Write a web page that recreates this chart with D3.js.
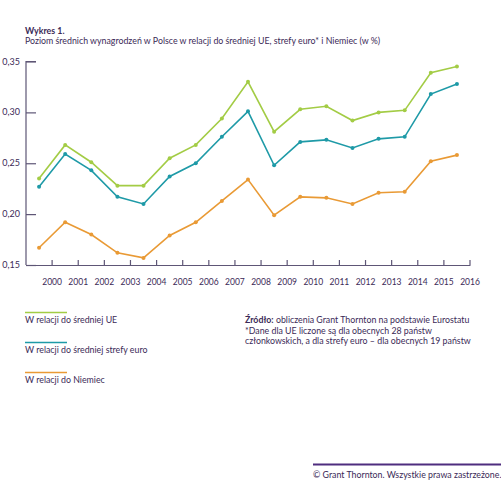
<!DOCTYPE html>
<html><head><meta charset="utf-8">
<script src="https://cdn.jsdelivr.net/npm/d3@7"></script>
<style>
html,body{margin:0;padding:0;background:#fff;}
text{font-family:Lato,"Open Sans",sans-serif;}
</style></head>
<body><svg id="c" width="501" height="491"></svg>
<script>
const years = ["2000","2001","2002","2003","2004","2005","2006","2007","2008","2009","2010","2011","2012","2013","2014","2015","2016"];
const seriesUE = [0.235,0.268,0.251,0.228,0.228,0.255,0.268,0.294,0.330,0.281,0.303,0.306,0.292,0.300,0.302,0.339,0.345];
const seriesEuro = [0.227,0.259,0.243,0.217,0.210,0.237,0.250,0.276,0.301,0.248,0.271,0.273,0.265,0.274,0.276,0.318,0.328];
const seriesDE = [0.167,0.192,0.180,0.162,0.157,0.179,0.192,0.213,0.234,0.199,0.217,0.216,0.210,0.221,0.222,0.252,0.258];
const yTicks = [0.15,0.20,0.25,0.30,0.35];
const seriesNames = ["W relacji do średniej UE","W relacji do średniej strefy euro","W relacji do Niemiec"];
const colors = ["#a3cc45","#1e9aa7","#e99a35"];

const svg = d3.select("#c");
const txt = "#3b2a57", axisCol = "#5e5676";
const fs = 8.8;

// title
svg.append("text").attr("x",25).attr("y",34).attr("font-size",fs).attr("font-weight","bold").attr("fill",txt).text("Wykres 1.");
svg.append("text").attr("x",25).attr("y",43.5).attr("font-size",fs).attr("fill",txt)
  .text("Poziom średnich wynagrodzeń w Polsce w relacji do średniej UE, strefy euro* i Niemiec (w %)");

const x = d3.scaleBand().domain(years).range([26,470]).padding(0);
const y = d3.scaleLinear().domain([0.15,0.35]).range([265,61.5]);

const g = svg.append("g");
// y axis
const yAx = d3.axisRight(y).tickValues(yTicks).tickSize(10).tickFormat("");
const ya = g.append("g").attr("transform","translate(26,0)").call(yAx);
ya.selectAll("path,line").attr("stroke",axisCol).attr("stroke-width",1.2);
ya.select(".domain").attr("d",`M10,${y(0.35)}H0V${y(0.15)}H0`);
g.selectAll(".ylab").data(yTicks).enter().append("text")
  .attr("x",20).attr("y",d=>y(d)+3).attr("text-anchor","end").attr("font-size",9).attr("fill",txt)
  .text(d=>d3.format(".2f")(d).replace(".",","));
// x axis
const xa = g.append("g").attr("transform","translate(0,265)")
  .call(d3.axisTop(x).tickSize(5).tickSizeOuter(0).tickFormat(""));
xa.selectAll(".tick").attr("transform",d=>`translate(${x(d)+x.bandwidth()},0)`);
xa.selectAll("path,line").attr("stroke",axisCol).attr("stroke-width",1.2);
g.selectAll(".xlab").data(years).enter().append("text")
  .attr("x",d=>x(d)+x.bandwidth()).attr("y",285).attr("text-anchor","middle").attr("font-size",8.5).attr("fill",txt)
  .text(d=>d);

const all = [seriesUE, seriesEuro, seriesDE];
const line = d3.line().x((d,i)=>x(years[i])+x.bandwidth()/2).y(d=>y(d));
all.forEach((s,k)=>{
  g.append("path").datum(s).attr("d",line).attr("fill","none").attr("stroke",colors[k]).attr("stroke-width",1.6);
  g.selectAll(".p"+k).data(s).enter().append("circle")
    .attr("cx",(d,i)=>x(years[i])+x.bandwidth()/2).attr("cy",d=>y(d)).attr("r",2).attr("fill",colors[k]);
});

// legend
const legY = [312.5,342.5,372.5];
seriesNames.forEach((n,k)=>{
  svg.append("line").attr("x1",25).attr("x2",67).attr("y1",legY[k]).attr("y2",legY[k]).attr("stroke",colors[k]).attr("stroke-width",1.5);
  svg.append("text").attr("x",25).attr("y",legY[k]+10.5).attr("font-size",fs).attr("fill",txt).text(n);
});

// source
const src = svg.append("text").attr("x",245).attr("y",323).attr("font-size",fs).attr("fill",txt);
src.append("tspan").attr("font-weight","bold").text("Źródło:");
src.append("tspan").text(" obliczenia Grant Thornton na podstawie Eurostatu");
svg.append("text").attr("x",245).attr("y",333.5).attr("font-size",fs).attr("fill",txt).text("*Dane dla UE liczone są dla obecnych 28 państw");
svg.append("text").attr("x",245).attr("y",344).attr("font-size",fs).attr("fill",txt).text("członkowskich, a dla strefy euro – dla obecnych 19 państw");

// footer
svg.append("line").attr("x1",313).attr("x2",501).attr("y1",464.5).attr("y2",464.5).attr("stroke","#4f2d7f").attr("stroke-width",2);
svg.append("text").attr("x",313).attr("y",478).attr("font-size",fs).attr("fill",txt).text("© Grant Thornton. Wszystkie prawa zastrzeżone.");
</script></body></html>
